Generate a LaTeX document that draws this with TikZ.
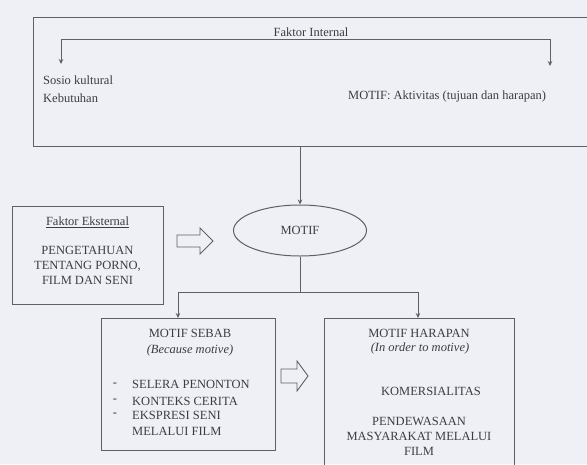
\documentclass[tikz,border=0pt]{standalone}
\usepackage{fontspec}
\setmainfont{Liberation Serif}
\usetikzlibrary{arrows.meta,shapes.geometric}
\definecolor{bgcol}{RGB}{239,239,246}
\definecolor{linecol}{RGB}{95,95,105}
\definecolor{txtcol}{RGB}{60,60,70}
\begin{document}
\begin{tikzpicture}[x=1pt,y=-1pt,
  every node/.style={text=txtcol,font=\fontsize{12.5}{15}\selectfont,inner sep=0pt},
  boxnode/.style={draw=linecol,line width=1pt,rectangle},
  conn/.style={draw=linecol,line width=0.9pt},
  arr/.style={conn,-{Stealth[length=5pt,width=4.5pt]}},
  blockarr/.style={draw=linecol,line width=0.9pt,line join=miter},
  lbl/.style={anchor=west}]
\useasboundingbox[fill=bgcol] (0,0) rectangle (587,464);

% top box (open at right edge of the picture)
\node[boxnode,minimum width=567pt,minimum height=129pt] (internal) at (316.5,81.5) {};
\node (fi) at (311,32) {Faktor Internal};
\coordinate (hl) at (61,39);
\coordinate (hr) at (550,39);
\coordinate (la) at (61,64);
\coordinate (ra) at (550,66);
\draw[arr] (hr) -- (hl) -- (la);
\draw[arr] (hr) -- (ra);
\node[lbl] (sosio) at (43,80) {Sosio kultural};
\node[lbl] (kebut) at (43,98) {Kebutuhan};
\node[lbl] (aktiv) at (348,96) {MOTIF: Aktivitas (tujuan dan harapan)};

% motif ellipse
\node[ellipse,draw=linecol,line width=1pt,minimum width=133pt,minimum height=51pt] (motif) at (300,230.5) {MOTIF};
\draw[arr] (motif.north |- internal.south) -- (motif.north);

% eksternal box
\node[boxnode,minimum width=151pt,minimum height=98pt] (eks) at (87.5,255) {};
\node (ekst) at (87.5,222) {\underline{Faktor Eksternal}};
\node[align=center] (eksb) at (87.5,265.5) {PENGETAHUAN\\TENTANG PORNO,\\FILM DAN SENI};

% block arrow 1
\draw[blockarr] (177,235) -- (200,235) -- (200,228) -- (213,241) -- (200,254) -- (200,247) -- (177,247) -- cycle;

% motif sebab box
\node[boxnode,minimum width=174pt,minimum height=132pt] (sebab) at (188,384) {};
\node (sebt) at (190,333) {MOTIF SEBAB};
\node (sebi) at (190,350) {\itshape (Because motive)};
\node (b1) at (115,385) {-};
\node (b2) at (115,401) {-};
\node (b3) at (115,415) {-};
\node[lbl] (s1) at (132,384) {SELERA PENONTON};
\node[lbl] (s2) at (132,401) {KONTEKS CERITA};
\node[lbl] (s3) at (132,415) {EKSPRESI SENI};
\node[lbl] (s4) at (132,431) {MELALUI FILM};

% motif harapan box (runs past the bottom edge)
\node[boxnode,minimum width=190pt,minimum height=160pt] (harap) at (419,398) {};
\node (hart) at (419,333) {MOTIF HARAPAN};
\node (hari) at (420,348) {\itshape (In order to motive)};
\node (kom) at (431,391) {KOMERSIALITAS};
\node[align=center] (pend) at (419,436.5) {PENDEWASAAN\\MASYARAKAT MELALUI\\FILM};

% block arrow 2
\draw[blockarr] (281,369) -- (297,369) -- (297,361) -- (308,376) -- (297,391) -- (297,383) -- (281,383) -- cycle;

% split connector
\coordinate (split) at (300,292);
\coordinate (sl) at (178,318);
\coordinate (sr) at (418,318);
\draw[conn] (motif.south) -- (split);
\draw[arr] (split) -| (sl);
\draw[arr] (split) -| (sr);
\end{tikzpicture}
\end{document}
